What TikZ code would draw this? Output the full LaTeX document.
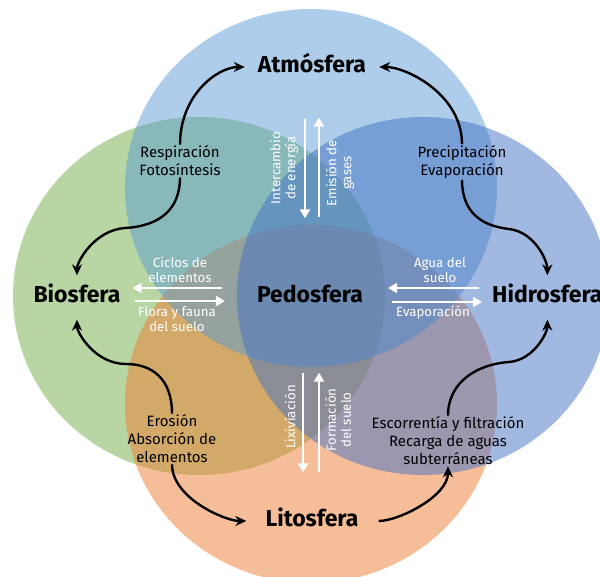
\documentclass[tikz,border=0pt]{standalone}
\usepackage{fontspec}
\setmainfont{Fira Sans}
\usetikzlibrary{arrows.meta}
\definecolor{cgreen}{HTML}{70AD47}
\definecolor{corange}{HTML}{ED7D31}
\definecolor{cblue}{HTML}{5B9BD5}
\definecolor{cdblue}{HTML}{4472C4}
\begin{document}
\begin{tikzpicture}[x=1pt,y=-1pt,
  sphere/.style={fill opacity=0.5, draw=none},
  big/.style={font=\fontsize{23}{27}\selectfont\bfseries, inner sep=0pt, text height=16pt, text depth=5pt},
  lab/.style={font=\fontsize{15}{18}\selectfont, align=center, inner sep=1pt},
  wlab/.style={font=\fontsize{13.3}{15}\selectfont, align=center, text=white, inner sep=1pt},
  flow/.style={line width=2.4pt, -{Stealth[length=11pt,width=10pt]}},
  wflow/.style={draw=white, line width=2.4pt, -{Triangle[length=9pt,width=10pt]}}]
\useasboundingbox (0,0) rectangle (600,577);
% spheres
\fill[cgreen, sphere] (199,296) ellipse [x radius=186, y radius=179];
\fill[corange, sphere] (311,404) ellipse [x radius=186, y radius=179];
\fill[cblue, sphere] (311,188) ellipse [x radius=186, y radius=179];
\fill[cdblue, sphere] (423,296) ellipse [x radius=186, y radius=179];
% main labels
\node[big] (atm) at (312,67) {Atmósfera};
\node[big] (bio) at (77,297) {Biosfera};
\node[big] (pedo) at (310,297) {Pedosfera};
\node[big, anchor=west] (hidro) at (492,297) {Hidrosfera};
\node[big] (lito) at (312,521) {Litosfera};
% process labels
\node[lab] (resp) at (180,161) {Respiración\\Fotosíntesis};
\node[lab] (prec) at (462,162) {Precipitación\\Evaporación};
\node[lab] (eros) at (172,439) {Erosión\\Absorción de\\elementos};
\node[lab] (esco) at (448,441) {Escorrentía y filtración\\Recarga de aguas\\subterráneas};
% white labels
\node[wlab] (ciclos) at (180,270) {Ciclos de\\elementos};
\node[wlab] (flora) at (177,319) {Flora y fauna\\del suelo};
\node[wlab] (agua) at (440,270) {Agua del\\suelo};
\node[wlab] (evap) at (433,313) {Evaporación};
\node[wlab, rotate=90] (inter) at (284,168) {Intercambio\\de energía};
\node[wlab, rotate=90] (emis) at (340,173) {Emisión de\\gases};
\node[wlab, rotate=90] (lixi) at (290,417) {Lixiviación};
\node[wlab, rotate=90] (form) at (338,420) {Formación\\del suelo};
% bend points
\coordinate (bl1) at (125,228);
\coordinate (bl2) at (126,364);
\coordinate (hr1) at (509,229);
\coordinate (hr2) at (509,362);
% black curved arrows
\draw[flow, shorten >=13pt] (resp.north) .. controls +(0,-50) and +(-40,0) .. (atm.west);
\draw[flow, shorten >=13pt] (prec.north) .. controls +(0,-50) and +(40,0) .. (atm.east);
\draw[flow, shorten >=11pt] (resp.south) .. controls +(0,32) and +(35,-2) .. (bl1) .. controls +(-30,2) and +(0,-25) .. (bio.north);
\draw[flow, shorten >=11pt] (prec.south) .. controls +(0,33) and +(-27,-3) .. (hr1) .. controls +(26,3) and +(0,-25) .. (hidro.north);
\draw[flow, shorten >=12pt] (eros.north) .. controls +(0,-35) and +(26,0) .. (bl2) .. controls +(-31,0) and +(0,25) .. (bio.south);
\draw[flow, shorten >=12pt] (esco.north) .. controls +(0,-35) and +(-30,2) .. (hr2) .. controls +(25,-2) and +(0,25) .. (hidro.south);
\draw[flow, shorten >=19pt] (eros.south) .. controls +(0,34) and +(-40,0) .. (lito.west);
\draw[flow, shorten <=20pt] (lito.east) .. controls +(40,0) and +(0,30) .. (esco.south);
% white straight arrows
\draw[wflow, shorten <=35pt, shorten >=12pt] ([yshift=9pt]pedo.west) -- ([yshift=9pt]bio.east);
\draw[wflow, shorten <=14pt, shorten >=32pt] ([yshift=-4pt]bio.east) -- ([yshift=-4pt]pedo.west);
\draw[wflow, shorten <=13pt, shorten >=25pt] ([yshift=9pt]hidro.west) -- ([yshift=9pt]pedo.east);
\draw[wflow, shorten <=29pt, shorten >=10pt] ([yshift=-5pt]pedo.east) -- ([yshift=-5pt]hidro.west);
\draw[wflow, shorten <=41pt, shorten >=68pt] ([xshift=-7pt]atm.south) -- ([xshift=-5pt]pedo.north);
\draw[wflow, shorten <=69pt, shorten >=40pt] ([xshift=9pt]pedo.north) -- ([xshift=7pt]atm.south);
\draw[wflow, shorten <=65pt, shorten >=38pt] ([xshift=-7pt]pedo.south) -- ([xshift=-9pt]lito.north);
\draw[wflow, shorten <=38pt, shorten >=65pt] ([xshift=7pt]lito.north) -- ([xshift=9pt]pedo.south);
\end{tikzpicture}
\end{document}
